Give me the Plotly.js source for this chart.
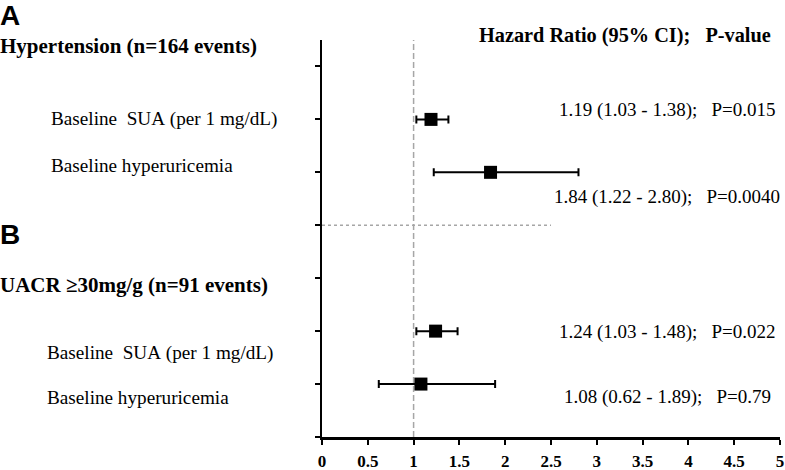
<!DOCTYPE html>
<html>
<head>
<meta charset="utf-8">
<script src="https://cdn.plot.ly/plotly-3.0.1.min.js"></script>
<style>html,body{margin:0;padding:0;background:#fff;}#chart{width:785px;height:470px;}</style>
</head>
<body>
<div id="chart"></div>
<script>
// ---- data ----
const panelLetters = ["A", "B"];
const outcomeTitles = ["Hypertension (n=164 events)", "UACR \u226530mg/g (n=91 events)"];
const rowLabels = ["Baseline  SUA (per 1 mg/dL)", "Baseline hyperuricemia", "Baseline  SUA (per 1 mg/dL)", "Baseline hyperuricemia"];
const hazardRatio = [1.19, 1.84, 1.24, 1.08];
const ciLower = [1.03, 1.22, 1.03, 0.62];
const ciUpper = [1.38, 2.80, 1.48, 1.89];
const pValues = ["0.015", "0.0040", "0.022", "0.79"];
const xTickVals = [0, 0.5, 1, 1.5, 2, 2.5, 3, 3.5, 4, 4.5, 5];
const xTickText = ["0", "0.5", "1", "1.5", "2", "2.5", "3", "3.5", "4", "4.5", "5"];
const headerText = "Hazard Ratio (95% CI);   P-value";
const nullValue = 1;

// ---- layout helpers ----
const W = 785, H = 470;
const M = {l: 322, r: 5, t: 40, b: 33};
const PW = W - M.l - M.r, PH = H - M.t - M.b;
const px = x => (x - M.l) / PW;          // pixel -> paper x
const py = y => (H - M.b - y) / PH;      // pixel -> paper y
const nb = s => s.replace(/ /g, "\u00a0");

const rowY = [6, 5, 2, 1];               // row slots on the y axis
const dividerY = 4;

const serif = "Liberation Serif, Times New Roman, serif";
const sans = "Liberation Sans, Arial, sans-serif";

const trace = {
  x: hazardRatio,
  y: rowY,
  type: "scatter",
  mode: "markers",
  marker: {symbol: "square", size: 13, color: "#000"},
  error_x: {
    type: "data", symmetric: false,
    array: hazardRatio.map((v, i) => ciUpper[i] - v),
    arrayminus: hazardRatio.map((v, i) => v - ciLower[i]),
    color: "#000", thickness: 2, width: 4
  },
  hoverinfo: "skip",
  cliponaxis: false
};

const annotations = [];
// panel letters
const letterY = [15.5, 235];
panelLetters.forEach((t, i) => annotations.push({
  text: "<b>" + t + "</b>", xref: "paper", yref: "paper", x: px(-2), y: py(letterY[i]),
  xanchor: "left", yanchor: "middle", showarrow: false,
  font: {family: sans, size: 28, color: "#000"}
}));
// outcome titles
const titleY = [46, 285];
outcomeTitles.forEach((t, i) => annotations.push({
  text: "<b>" + nb(t) + "</b>", xref: "paper", yref: "paper", x: px(-2), y: py(titleY[i]),
  xanchor: "left", yanchor: "middle", showarrow: false,
  font: {family: serif, size: 21, color: "#000"}
}));
// header
annotations.push({
  text: "<b>" + nb(headerText) + "</b>", xref: "paper", yref: "paper", x: px(625), y: py(36),
  xanchor: "center", yanchor: "middle", showarrow: false,
  font: {family: serif, size: 20.3, color: "#000"}
});
// row labels
const labelX = [49, 49, 45, 45];
const labelY = [119, 166, 353, 397];
rowLabels.forEach((t, i) => annotations.push({
  text: nb(t), xref: "paper", yref: "paper", x: px(labelX[i]), y: py(labelY[i]),
  xanchor: "left", yanchor: "middle", showarrow: false,
  font: {family: serif, size: 19.2, color: "#000"}
}));
// HR texts
const hrY = [110, 197, 332, 397];
hazardRatio.forEach((v, i) => annotations.push({
  text: nb(v.toFixed(2) + " (" + ciLower[i].toFixed(2) + " - " + ciUpper[i].toFixed(2) + ");   P=" + pValues[i]),
  xref: "paper", yref: "paper", x: px(667), y: py(hrY[i]),
  xanchor: "center", yanchor: "middle", showarrow: false,
  font: {family: serif, size: 19, color: "#000"}
}));

const layout = {
  width: W, height: H,
  margin: M,
  paper_bgcolor: "#fff", plot_bgcolor: "#fff",
  showlegend: false,
  xaxis: {
    range: [0, 5], tickvals: xTickVals, ticktext: xTickText,
    showline: true, linecolor: "#000", linewidth: 2.5,
    ticks: "outside", ticklen: 5, tickwidth: 2, tickcolor: "#000",
    showgrid: false, zeroline: false, ticklabelstandoff: 2,
    tickfont: {family: serif, size: 17, color: "#000", weight: "bold"}
  },
  yaxis: {
    range: [0, 7.5], tickvals: [0, 1, 2, 3, 4, 5, 6, 7], showticklabels: false,
    showline: true, linecolor: "#000", linewidth: 2.5,
    ticks: "outside", ticklen: 5, tickwidth: 2, tickcolor: "#000",
    showgrid: false, zeroline: false
  },
  shapes: [
    {type: "line", xref: "x", yref: "paper", x0: nullValue, x1: nullValue, y0: 0, y1: 1,
     line: {color: "#a6a6a6", width: 1.5, dash: "6px,3px"}, layer: "below"},
    {type: "line", xref: "x", yref: "y", x0: 0, x1: 2.5, y0: dividerY, y1: dividerY,
     line: {color: "#a6a6a6", width: 1.5, dash: "dot"}, layer: "below"}
  ],
  annotations: annotations
};

Plotly.newPlot("chart", [trace], layout, {staticPlot: true, displayModeBar: false});
</script>
</body>
</html>
